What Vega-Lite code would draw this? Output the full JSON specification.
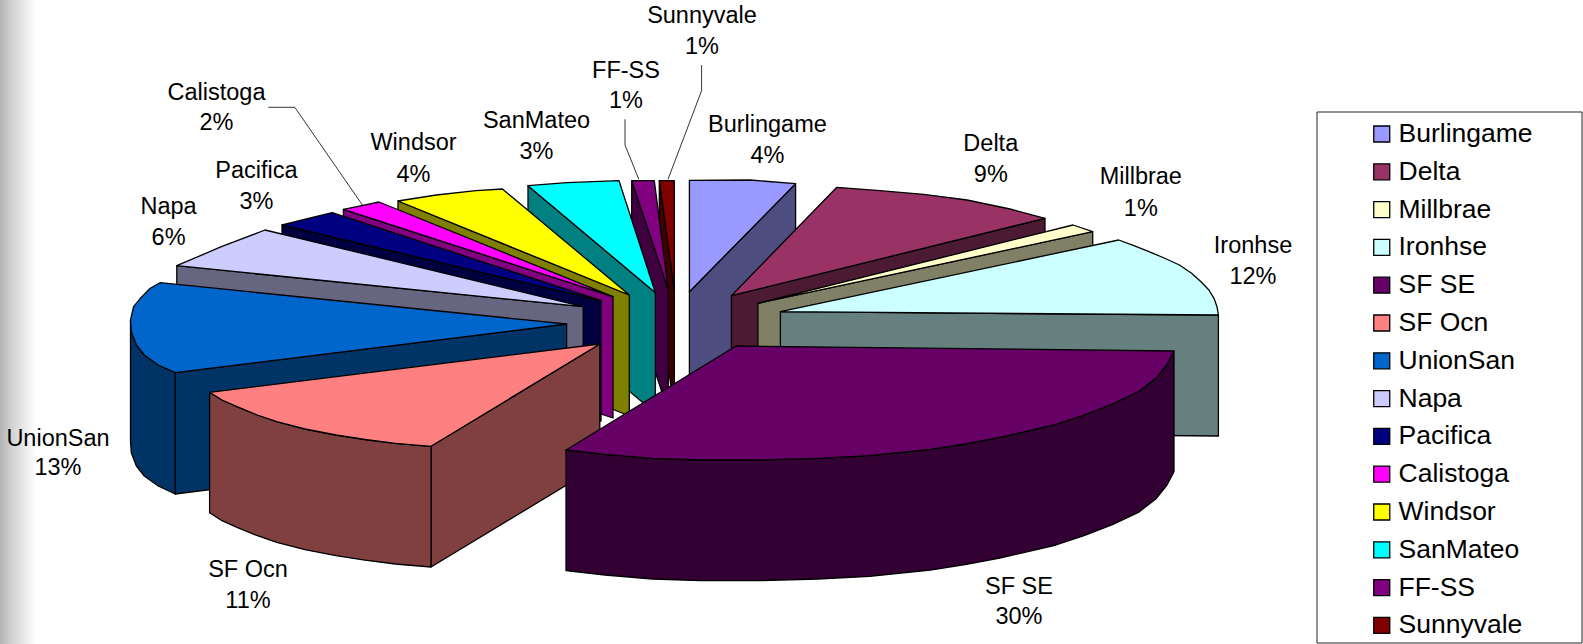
{"$schema":"https://vega.github.io/schema/vega-lite/v6.json","width":1583,"height":644,"padding":0,"autosize":{"type":"none"},"background":"white","view":{"stroke":null},
"datasets":{
"strip":[{"x":0,"x2":36,"y":0,"y2":644}],
"box":[{"x":1317,"x2":1582,"y":112,"y2":643}],
"leaders":[
{"id":"Calistoga","seq":1,"x":268.3,"y":107.3},{"id":"Calistoga","seq":2,"x":294.8,"y":107.3},{"id":"Calistoga","seq":3,"x":362.4,"y":205},
{"id":"FF-SS","seq":1,"x":625,"y":119.3},{"id":"FF-SS","seq":2,"x":625,"y":145},{"id":"FF-SS","seq":3,"x":638.8,"y":179.3},
{"id":"Sunnyvale","seq":1,"x":701.6,"y":65},{"id":"Sunnyvale","seq":2,"x":701.6,"y":90.7},{"id":"Sunnyvale","seq":3,"x":668,"y":179.3}],
"labels":[
{"name":"Burlingame","pct":"4%","x":767.4,"y1":124,"y2":155},
{"name":"Delta","pct":"9%","x":990.8,"y1":143,"y2":174},
{"name":"Millbrae","pct":"1%","x":1140.8,"y1":176.7,"y2":208},
{"name":"Ironhse","pct":"12%","x":1253,"y1":245,"y2":276},
{"name":"SF SE","pct":"30%","x":1019,"y1":586,"y2":616.7},
{"name":"SF Ocn","pct":"11%","x":248,"y1":569,"y2":600},
{"name":"UnionSan","pct":"13%","x":58,"y1":438.3,"y2":467.7},
{"name":"Napa","pct":"6%","x":168.6,"y1":206,"y2":237},
{"name":"Pacifica","pct":"3%","x":256.4,"y1":170,"y2":201},
{"name":"Calistoga","pct":"2%","x":216.5,"y1":92.3,"y2":122.3},
{"name":"Windsor","pct":"4%","x":413.5,"y1":142.7,"y2":174},
{"name":"SanMateo","pct":"3%","x":536.5,"y1":120.7,"y2":151},
{"name":"FF-SS","pct":"1%","x":626,"y1":70,"y2":100.7},
{"name":"Sunnyvale","pct":"1%","x":702,"y1":15,"y2":46}],
"faces":[
{"part":"Sunnyvale side","face":"a1","seq":1,"x":659.3,"y":180.7},{"part":"Sunnyvale side","face":"a1","seq":2,"x":674.3,"y":290},{"part":"Sunnyvale side","face":"a1","seq":3,"x":674.3,"y":411},{"part":"Sunnyvale side","face":"a1","seq":4,"x":659.3,"y":301.7},
{"part":"Sunnyvale","face":"a2","seq":1,"x":659.3,"y":180.7},{"part":"Sunnyvale","face":"a2","seq":2,"x":674.3,"y":180.7},{"part":"Sunnyvale","face":"a2","seq":3,"x":674.3,"y":290},
{"part":"FF-SS side","face":"b1","seq":1,"x":631.7,"y":180.7},{"part":"FF-SS side","face":"b1","seq":2,"x":668.3,"y":290},{"part":"FF-SS side","face":"b1","seq":3,"x":668.3,"y":411},{"part":"FF-SS side","face":"b1","seq":4,"x":631.7,"y":301.7},
{"part":"FF-SS","face":"b2","seq":1,"x":631.7,"y":180.7},{"part":"FF-SS","face":"b2","seq":2,"x":654.3,"y":180.7},{"part":"FF-SS","face":"b2","seq":3,"x":668.3,"y":290},
{"part":"SanMateo side","face":"c1","seq":1,"x":528,"y":185.7},{"part":"SanMateo side","face":"c1","seq":2,"x":655.4,"y":292.7},{"part":"SanMateo side","face":"c1","seq":3,"x":655.4,"y":413},{"part":"SanMateo side","face":"c1","seq":4,"x":528,"y":306.7},
{"part":"SanMateo","face":"c2","seq":1,"x":528,"y":185.7},{"part":"SanMateo","face":"c2","seq":2,"x":566.8,"y":182.7},{"part":"SanMateo","face":"c2","seq":3,"x":619,"y":180.7},{"part":"SanMateo","face":"c2","seq":4,"x":655.4,"y":292.7},
{"part":"Windsor side","face":"d1","seq":1,"x":398,"y":201},{"part":"Windsor side","face":"d1","seq":2,"x":629.3,"y":295},{"part":"Windsor side","face":"d1","seq":3,"x":629.3,"y":416},{"part":"Windsor side","face":"d1","seq":4,"x":398,"y":322},
{"part":"Windsor","face":"d2","seq":1,"x":398,"y":201},{"part":"Windsor","face":"d2","seq":2,"x":436.3,"y":195},{"part":"Windsor","face":"d2","seq":3,"x":476,"y":190.7},{"part":"Windsor","face":"d2","seq":4,"x":502.4,"y":189},{"part":"Windsor","face":"d2","seq":5,"x":629.3,"y":295},
{"part":"Calistoga side","face":"e1","seq":1,"x":343.4,"y":209.3},{"part":"Calistoga side","face":"e1","seq":2,"x":613,"y":296.7},{"part":"Calistoga side","face":"e1","seq":3,"x":613,"y":418},{"part":"Calistoga side","face":"e1","seq":4,"x":343.4,"y":330},
{"part":"Calistoga","face":"e2","seq":1,"x":343.4,"y":209.3},{"part":"Calistoga","face":"e2","seq":2,"x":357,"y":206.7},{"part":"Calistoga","face":"e2","seq":3,"x":379,"y":202},{"part":"Calistoga","face":"e2","seq":4,"x":613,"y":296.7},
{"part":"Pacifica side","face":"f1","seq":1,"x":282,"y":225},{"part":"Pacifica side","face":"f1","seq":2,"x":601,"y":300.7},{"part":"Pacifica side","face":"f1","seq":3,"x":601,"y":421},{"part":"Pacifica side","face":"f1","seq":4,"x":282,"y":346},
{"part":"Pacifica","face":"f2","seq":1,"x":282,"y":225},{"part":"Pacifica","face":"f2","seq":2,"x":308.4,"y":218.3},{"part":"Pacifica","face":"f2","seq":3,"x":332.2,"y":212.7},{"part":"Pacifica","face":"f2","seq":4,"x":601,"y":300.7},
{"part":"Napa side","face":"g1","seq":1,"x":176.8,"y":265.7},{"part":"Napa side","face":"g1","seq":2,"x":583.2,"y":306.7},{"part":"Napa side","face":"g1","seq":3,"x":583.2,"y":427.7},{"part":"Napa side","face":"g1","seq":4,"x":176.8,"y":386.7},
{"part":"Napa","face":"g2","seq":1,"x":176.8,"y":265.7},{"part":"Napa","face":"g2","seq":2,"x":221.4,"y":246.7},{"part":"Napa","face":"g2","seq":3,"x":265,"y":230},{"part":"Napa","face":"g2","seq":4,"x":583.2,"y":306.7},
{"part":"UnionSan side","face":"h1","seq":1,"x":175.2,"y":372.7},{"part":"UnionSan side","face":"h1","seq":2,"x":566.6,"y":324},{"part":"UnionSan side","face":"h1","seq":3,"x":566.6,"y":445},{"part":"UnionSan side","face":"h1","seq":4,"x":175.2,"y":494},
{"part":"UnionSan side","face":"h2","seq":1,"x":130.5,"y":320},{"part":"UnionSan side","face":"h2","seq":2,"x":131.3,"y":331.7},{"part":"UnionSan side","face":"h2","seq":3,"x":136.4,"y":345},{"part":"UnionSan side","face":"h2","seq":4,"x":144.3,"y":355},{"part":"UnionSan side","face":"h2","seq":5,"x":158.2,"y":365},{"part":"UnionSan side","face":"h2","seq":6,"x":175.2,"y":372.7},{"part":"UnionSan side","face":"h2","seq":7,"x":175.2,"y":494},{"part":"UnionSan side","face":"h2","seq":8,"x":158.2,"y":486},{"part":"UnionSan side","face":"h2","seq":9,"x":144.3,"y":476},{"part":"UnionSan side","face":"h2","seq":10,"x":136.4,"y":466},{"part":"UnionSan side","face":"h2","seq":11,"x":131.3,"y":452.7},{"part":"UnionSan side","face":"h2","seq":12,"x":130.5,"y":441},
{"part":"UnionSan","face":"h3","seq":1,"x":160,"y":282.7},{"part":"UnionSan","face":"h3","seq":2,"x":566.6,"y":324},{"part":"UnionSan","face":"h3","seq":3,"x":175.2,"y":372.7},{"part":"UnionSan","face":"h3","seq":4,"x":158.2,"y":365},{"part":"UnionSan","face":"h3","seq":5,"x":144.3,"y":355},{"part":"UnionSan","face":"h3","seq":6,"x":136.4,"y":345},{"part":"UnionSan","face":"h3","seq":7,"x":131.3,"y":331.7},{"part":"UnionSan","face":"h3","seq":8,"x":130.5,"y":320},{"part":"UnionSan","face":"h3","seq":9,"x":133.6,"y":306.7},{"part":"UnionSan","face":"h3","seq":10,"x":140.4,"y":298.3},{"part":"UnionSan","face":"h3","seq":11,"x":150.3,"y":288.3},
{"part":"SF Ocn side","face":"i1","seq":1,"x":431,"y":446.3},{"part":"SF Ocn side","face":"i1","seq":2,"x":599.8,"y":344},{"part":"SF Ocn side","face":"i1","seq":3,"x":599.8,"y":465},{"part":"SF Ocn side","face":"i1","seq":4,"x":431,"y":567},
{"part":"SF Ocn side","face":"i2","seq":1,"x":209.6,"y":392.3},{"part":"SF Ocn side","face":"i2","seq":2,"x":222,"y":400},{"part":"SF Ocn side","face":"i2","seq":3,"x":237,"y":406.7},{"part":"SF Ocn side","face":"i2","seq":4,"x":256,"y":414.5},{"part":"SF Ocn side","face":"i2","seq":5,"x":276.8,"y":421.7},{"part":"SF Ocn side","face":"i2","seq":6,"x":305,"y":429},{"part":"SF Ocn side","face":"i2","seq":7,"x":336,"y":435},{"part":"SF Ocn side","face":"i2","seq":8,"x":365,"y":439.5},{"part":"SF Ocn side","face":"i2","seq":9,"x":395.4,"y":443.3},{"part":"SF Ocn side","face":"i2","seq":10,"x":431,"y":446.3},{"part":"SF Ocn side","face":"i2","seq":11,"x":431,"y":567},{"part":"SF Ocn side","face":"i2","seq":12,"x":395.4,"y":564},{"part":"SF Ocn side","face":"i2","seq":13,"x":365,"y":560.2},{"part":"SF Ocn side","face":"i2","seq":14,"x":336,"y":555.7},{"part":"SF Ocn side","face":"i2","seq":15,"x":305,"y":549.7},{"part":"SF Ocn side","face":"i2","seq":16,"x":276.8,"y":542.4},{"part":"SF Ocn side","face":"i2","seq":17,"x":256,"y":535.2},{"part":"SF Ocn side","face":"i2","seq":18,"x":237,"y":527.4},{"part":"SF Ocn side","face":"i2","seq":19,"x":222,"y":520.7},{"part":"SF Ocn side","face":"i2","seq":20,"x":209.6,"y":512.7},
{"part":"SF Ocn","face":"i3","seq":1,"x":209.6,"y":392.3},{"part":"SF Ocn","face":"i3","seq":2,"x":599.8,"y":344},{"part":"SF Ocn","face":"i3","seq":3,"x":431,"y":446.3},{"part":"SF Ocn","face":"i3","seq":4,"x":395.4,"y":443.3},{"part":"SF Ocn","face":"i3","seq":5,"x":365,"y":439.5},{"part":"SF Ocn","face":"i3","seq":6,"x":336,"y":435},{"part":"SF Ocn","face":"i3","seq":7,"x":305,"y":429},{"part":"SF Ocn","face":"i3","seq":8,"x":276.8,"y":421.7},{"part":"SF Ocn","face":"i3","seq":9,"x":256,"y":414.5},{"part":"SF Ocn","face":"i3","seq":10,"x":237,"y":406.7},{"part":"SF Ocn","face":"i3","seq":11,"x":222,"y":400},
{"part":"Burlingame side","face":"j1","seq":1,"x":795.6,"y":183.7},{"part":"Burlingame side","face":"j1","seq":2,"x":795.6,"y":304},{"part":"Burlingame side","face":"j1","seq":3,"x":689.4,"y":412},{"part":"Burlingame side","face":"j1","seq":4,"x":689.4,"y":291.7},
{"part":"Burlingame","face":"j2","seq":1,"x":689.4,"y":180.3},{"part":"Burlingame","face":"j2","seq":2,"x":750,"y":180},{"part":"Burlingame","face":"j2","seq":3,"x":795.6,"y":183.7},{"part":"Burlingame","face":"j2","seq":4,"x":689.4,"y":291.7},
{"part":"Delta side","face":"k1","seq":1,"x":1045,"y":218.3},{"part":"Delta side","face":"k1","seq":2,"x":1045,"y":339},{"part":"Delta side","face":"k1","seq":3,"x":731.4,"y":416},{"part":"Delta side","face":"k1","seq":4,"x":731.4,"y":295.7},
{"part":"Delta","face":"k2","seq":1,"x":836.8,"y":187.3},{"part":"Delta","face":"k2","seq":2,"x":880,"y":190.7},{"part":"Delta","face":"k2","seq":3,"x":923.6,"y":194.3},{"part":"Delta","face":"k2","seq":4,"x":967,"y":200},{"part":"Delta","face":"k2","seq":5,"x":1010,"y":209},{"part":"Delta","face":"k2","seq":6,"x":1045,"y":218.3},{"part":"Delta","face":"k2","seq":7,"x":731.4,"y":295.7},
{"part":"Millbrae side","face":"l1","seq":1,"x":1092.7,"y":231.7},{"part":"Millbrae side","face":"l1","seq":2,"x":1092.7,"y":352},{"part":"Millbrae side","face":"l1","seq":3,"x":757.9,"y":424},{"part":"Millbrae side","face":"l1","seq":4,"x":757.9,"y":303.3},
{"part":"Millbrae","face":"l2","seq":1,"x":1073,"y":225},{"part":"Millbrae","face":"l2","seq":2,"x":1092.7,"y":231.7},{"part":"Millbrae","face":"l2","seq":3,"x":757.9,"y":303.3},
{"part":"Ironhse side","face":"m1","seq":1,"x":1218.4,"y":315},{"part":"Ironhse side","face":"m1","seq":2,"x":1218.4,"y":436},{"part":"Ironhse side","face":"m1","seq":3,"x":780.4,"y":432},{"part":"Ironhse side","face":"m1","seq":4,"x":780.4,"y":311.7},
{"part":"Ironhse","face":"m2","seq":1,"x":1118.7,"y":240},{"part":"Ironhse","face":"m2","seq":2,"x":1133.9,"y":245.7},{"part":"Ironhse","face":"m2","seq":3,"x":1149,"y":251.7},{"part":"Ironhse","face":"m2","seq":4,"x":1164.2,"y":258},{"part":"Ironhse","face":"m2","seq":5,"x":1179.4,"y":265},{"part":"Ironhse","face":"m2","seq":6,"x":1191.6,"y":273.3},{"part":"Ironhse","face":"m2","seq":7,"x":1201,"y":281.7},{"part":"Ironhse","face":"m2","seq":8,"x":1208.9,"y":290},{"part":"Ironhse","face":"m2","seq":9,"x":1214,"y":298.3},{"part":"Ironhse","face":"m2","seq":10,"x":1217,"y":306.7},{"part":"Ironhse","face":"m2","seq":11,"x":1218.4,"y":315},{"part":"Ironhse","face":"m2","seq":12,"x":780.4,"y":311.7},
{"part":"SF SE side","face":"n1","seq":1,"x":1174,"y":351},{"part":"SF SE side","face":"n1","seq":2,"x":1166.6,"y":365},{"part":"SF SE side","face":"n1","seq":3,"x":1155.8,"y":378.3},{"part":"SF SE side","face":"n1","seq":4,"x":1138.4,"y":391.7},{"part":"SF SE side","face":"n1","seq":5,"x":1112.4,"y":404},{"part":"SF SE side","face":"n1","seq":6,"x":1084,"y":415},{"part":"SF SE side","face":"n1","seq":7,"x":1056,"y":424.3},{"part":"SF SE side","face":"n1","seq":8,"x":1027.9,"y":431},{"part":"SF SE side","face":"n1","seq":9,"x":999.7,"y":437.3},{"part":"SF SE side","face":"n1","seq":10,"x":965,"y":444},{"part":"SF SE side","face":"n1","seq":11,"x":930.3,"y":449.3},{"part":"SF SE side","face":"n1","seq":12,"x":869.6,"y":455.7},{"part":"SF SE side","face":"n1","seq":13,"x":817.5,"y":458.3},{"part":"SF SE side","face":"n1","seq":14,"x":756.8,"y":460},{"part":"SF SE side","face":"n1","seq":15,"x":700.5,"y":460},{"part":"SF SE side","face":"n1","seq":16,"x":652.7,"y":458.3},{"part":"SF SE side","face":"n1","seq":17,"x":605,"y":454.3},{"part":"SF SE side","face":"n1","seq":18,"x":566,"y":450},{"part":"SF SE side","face":"n1","seq":19,"x":566,"y":570.7},{"part":"SF SE side","face":"n1","seq":20,"x":605,"y":575},{"part":"SF SE side","face":"n1","seq":21,"x":652.7,"y":579},{"part":"SF SE side","face":"n1","seq":22,"x":700.5,"y":580.7},{"part":"SF SE side","face":"n1","seq":23,"x":756.8,"y":580.7},{"part":"SF SE side","face":"n1","seq":24,"x":817.5,"y":579},{"part":"SF SE side","face":"n1","seq":25,"x":869.6,"y":576.4},{"part":"SF SE side","face":"n1","seq":26,"x":930.3,"y":570},{"part":"SF SE side","face":"n1","seq":27,"x":965,"y":564.7},{"part":"SF SE side","face":"n1","seq":28,"x":999.7,"y":558},{"part":"SF SE side","face":"n1","seq":29,"x":1027.9,"y":551.7},{"part":"SF SE side","face":"n1","seq":30,"x":1056,"y":545},{"part":"SF SE side","face":"n1","seq":31,"x":1084,"y":535.7},{"part":"SF SE side","face":"n1","seq":32,"x":1112.4,"y":524.7},{"part":"SF SE side","face":"n1","seq":33,"x":1138.4,"y":512.4},{"part":"SF SE side","face":"n1","seq":34,"x":1155.8,"y":499},{"part":"SF SE side","face":"n1","seq":35,"x":1166.6,"y":485.7},{"part":"SF SE side","face":"n1","seq":36,"x":1174,"y":471.7},
{"part":"SF SE","face":"n2","seq":1,"x":736,"y":346},{"part":"SF SE","face":"n2","seq":2,"x":1174,"y":351},{"part":"SF SE","face":"n2","seq":3,"x":1166.6,"y":365},{"part":"SF SE","face":"n2","seq":4,"x":1155.8,"y":378.3},{"part":"SF SE","face":"n2","seq":5,"x":1138.4,"y":391.7},{"part":"SF SE","face":"n2","seq":6,"x":1112.4,"y":404},{"part":"SF SE","face":"n2","seq":7,"x":1084,"y":415},{"part":"SF SE","face":"n2","seq":8,"x":1056,"y":424.3},{"part":"SF SE","face":"n2","seq":9,"x":1027.9,"y":431},{"part":"SF SE","face":"n2","seq":10,"x":999.7,"y":437.3},{"part":"SF SE","face":"n2","seq":11,"x":965,"y":444},{"part":"SF SE","face":"n2","seq":12,"x":930.3,"y":449.3},{"part":"SF SE","face":"n2","seq":13,"x":869.6,"y":455.7},{"part":"SF SE","face":"n2","seq":14,"x":817.5,"y":458.3},{"part":"SF SE","face":"n2","seq":15,"x":756.8,"y":460},{"part":"SF SE","face":"n2","seq":16,"x":700.5,"y":460},{"part":"SF SE","face":"n2","seq":17,"x":652.7,"y":458.3},{"part":"SF SE","face":"n2","seq":18,"x":605,"y":454.3},{"part":"SF SE","face":"n2","seq":19,"x":566,"y":450}
]},
"layer":[
{"data":{"name":"strip"},"mark":{"type":"rect","color":{"gradient":"linear","x1":0,"y1":0,"x2":1,"y2":0,"stops":[{"offset":0,"color":"#b4b4b4"},{"offset":0.3,"color":"#cfcfcf"},{"offset":1,"color":"#ffffff"}]}},
"encoding":{"x":{"field":"x","type":"quantitative","scale":{"domain":[0,1583],"nice":false,"zero":false},"axis":null},"x2":{"field":"x2"},"y":{"field":"y","type":"quantitative","scale":{"domain":[644,0],"nice":false,"zero":false},"axis":null},"y2":{"field":"y2"}}},
{"data":{"name":"box"},"mark":{"type":"rect","fill":"white","stroke":"#222222","strokeWidth":1},
"encoding":{"x":{"field":"x","type":"quantitative","axis":null},"x2":{"field":"x2"},"y":{"field":"y","type":"quantitative","axis":null},"y2":{"field":"y2"}}},
{"data":{"name":"leaders"},"mark":{"type":"line","color":"black","strokeWidth":0.8},
"encoding":{"x":{"field":"x","type":"quantitative","axis":null},"y":{"field":"y","type":"quantitative","axis":null},"detail":{"field":"id"},"order":{"field":"seq"}}},
{"data":{"name":"faces"},"mark":{"type":"line","interpolate":"linear-closed","stroke":"black","strokeWidth":1.3,"strokeJoin":"round"},
"encoding":{"x":{"field":"x","type":"quantitative","axis":null},"y":{"field":"y","type":"quantitative","axis":null},"detail":{"field":"face"},"order":{"field":"seq"},
"fill":{"field":"part","type":"nominal","sort":null,
"scale":{"domain":["Burlingame","Delta","Millbrae","Ironhse","SF SE","SF Ocn","UnionSan","Napa","Pacifica","Calistoga","Windsor","SanMateo","FF-SS","Sunnyvale","Burlingame side","Delta side","Millbrae side","Ironhse side","SF SE side","SF Ocn side","UnionSan side","Napa side","Pacifica side","Calistoga side","Windsor side","SanMateo side","FF-SS side","Sunnyvale side"],
"range":["#9999FF","#993366","#FFFFCC","#CCFFFF","#660066","#FF8080","#0066CC","#CCCCFF","#000080","#FF00FF","#FFFF00","#00FFFF","#800080","#800000","#4D4D80","#4D1A33","#808066","#668080","#330033","#804040","#003366","#666680","#000040","#800080","#808000","#008080","#400040","#400000"]},
"legend":{"values":["Burlingame","Delta","Millbrae","Ironhse","SF SE","SF Ocn","UnionSan","Napa","Pacifica","Calistoga","Windsor","SanMateo","FF-SS","Sunnyvale"],"title":null,"orient":"none","legendX":1368.5,"legendY":121,"padding":0,"symbolType":"square","symbolSize":256,"symbolStrokeColor":"black","symbolStrokeWidth":1.3,"symbolOpacity":1,"labelFont":"Liberation Sans","labelFontSize":26.5,"labelColor":"black","labelLimit":300,"labelOffset":3.5,"rowPadding":10.8,"clipHeight":26}}}},
{"data":{"name":"labels"},"mark":{"type":"text","font":"Liberation Sans","fontSize":23.5,"color":"black","align":"center","baseline":"middle","dy":0.7},
"encoding":{"x":{"field":"x","type":"quantitative","axis":null},"y":{"field":"y1","type":"quantitative","axis":null},"text":{"field":"name"}}},
{"data":{"name":"labels"},"mark":{"type":"text","font":"Liberation Sans","fontSize":23.5,"color":"black","align":"center","baseline":"middle","dy":0.7},
"encoding":{"x":{"field":"x","type":"quantitative","axis":null},"y":{"field":"y2","type":"quantitative","axis":null},"text":{"field":"pct"}}}
]}
